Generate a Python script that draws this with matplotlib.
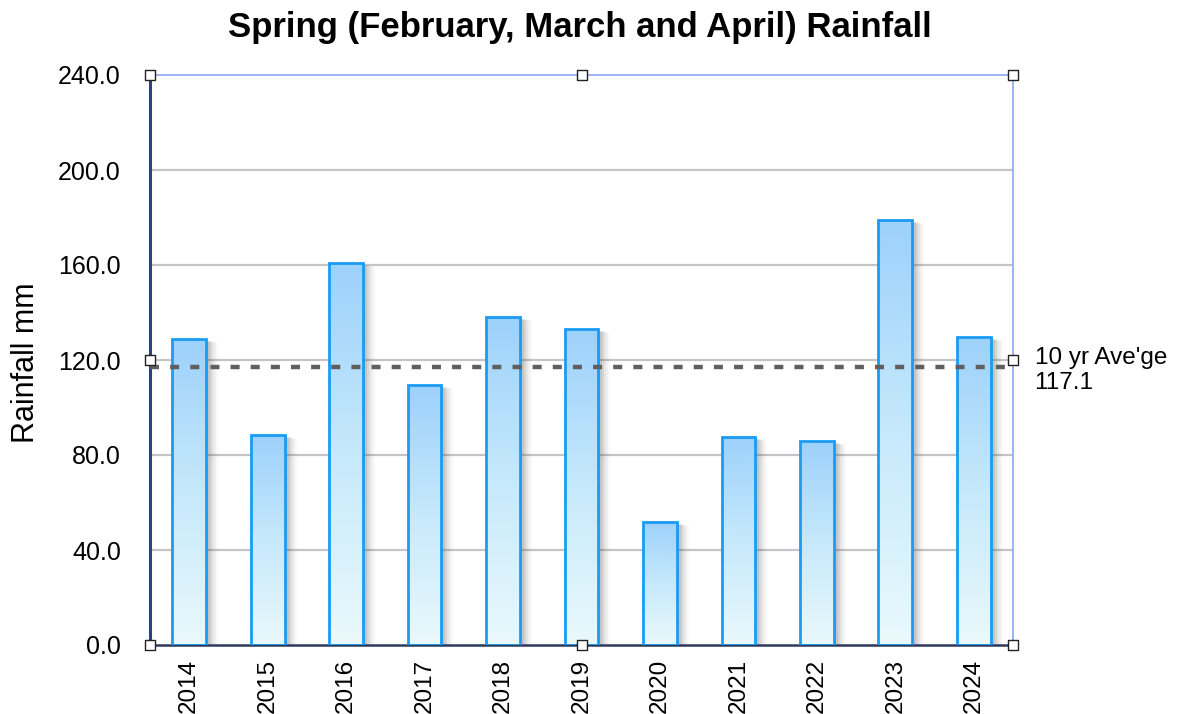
import numpy as np
import matplotlib
matplotlib.use("Agg")
import matplotlib.pyplot as plt
import matplotlib.transforms as mtransforms
from matplotlib.colors import LinearSegmentedColormap

plt.rcParams['font.family'] = ['Liberation Sans', 'DejaVu Sans']
plt.rcParams['lines.scale_dashes'] = False

years = ["2014", "2015", "2016", "2017", "2018", "2019", "2020", "2021", "2022", "2023", "2024"]
rainfall = [129.0, 88.4, 160.7, 109.5, 138.0, 133.2, 51.8, 87.6, 85.9, 179.0, 129.7]
average = 117.1
yticks = [0, 40, 80, 120, 160, 200, 240]

W, H = 1181, 714
fig = plt.figure(figsize=(W / 100, H / 100), dpi=100)
ax = fig.add_axes([150 / W, 1 - 645 / H, (1013 - 150) / W, (645 - 75) / H])

x = np.arange(len(years))
bw = 0.43
ax.set_xlim(-0.5, len(years) - 0.5)
ax.set_ylim(0, 240)

# grid
for t in yticks[1:-1]:
    ax.axhline(t, color='#c4c4c4', lw=1.6, zorder=0.5)

# shadows
for i, (dx, dy, a) in enumerate([(2, -1, 0.16), (4, -2, 0.13), (6, -2, 0.10),
                                 (8, -3, 0.07), (10, -3, 0.05), (12, -4, 0.03)]):
    tr = mtransforms.offset_copy(ax.transData, fig=fig, x=dx, y=dy, units='dots')
    ax.bar(x, rainfall, width=bw, color='#555555', alpha=a, lw=0, transform=tr, zorder=1)

cmap = LinearSegmentedColormap.from_list('g', ['#eaf9fc', '#c6e9fb', '#9dd1fb'])
grad = np.linspace(0, 1, 256).reshape(-1, 1)
bars = ax.bar(x, rainfall, width=bw, facecolor='none', edgecolor='#1a9cf5', lw=2.0, zorder=3)
for b in bars:
    x0 = b.get_x()
    w, h = b.get_width(), b.get_height()
    im = ax.imshow(grad, extent=(x0, x0 + w, 0, h), origin='lower', cmap=cmap,
                   aspect='auto', zorder=2, interpolation='bilinear')
    im.set_clip_path(b)
ax.set_xlim(-0.5, len(years) - 0.5)
ax.set_ylim(0, 240)

# average line
ax.plot([-0.5, len(years) - 0.6], [average, average], color='#5f5f5f', lw=3.2,
        linestyle=(0, (6.5, 8.0)), zorder=4, dash_capstyle='butt')

ax.text(1.025, average - 1.5, "10 yr Ave'ge\n117.1", transform=ax.get_yaxis_transform(),
        fontsize=17.5, va='center', ha='left', linespacing=1.2)

ax.set_xticks(x)
ax.set_xticklabels(years, rotation=90, fontsize=17.5)
ax.set_yticks(yticks)
ax.set_yticklabels([f"{t:.1f}" for t in yticks], fontsize=18)
ax.tick_params(length=0)
ax.tick_params(axis='x', pad=10)
ax.tick_params(axis='y', pad=21)

fig.text(26 / W, 1 - 363 / H, "Rainfall mm", fontsize=22, rotation=90,
         ha='center', va='center')

ax.spines['left'].set_color('#2b3f8f')
ax.spines['left'].set_linewidth(2.2)
ax.spines['bottom'].set_color('#2e3a5a')
ax.spines['bottom'].set_linewidth(1.8)
ax.spines['top'].set_color('#8ea4f2')
ax.spines['top'].set_linewidth(1.2)
ax.spines['right'].set_color('#8ea4f2')
ax.spines['right'].set_linewidth(1.2)

# selection handles
hx = [0, 0.5, 1, 0, 1, 0, 0.5, 1]
hy = [1, 1, 1, 0.5, 0.5, 0, 0, 0]
ax.scatter(hx, hy, s=60, marker='s', facecolor='white', edgecolor='#222222', lw=1.0,
           transform=ax.transAxes, clip_on=False, zorder=10)

fig.text(580 / W, 1 - 28 / H, "Spring (February, March and April) Rainfall",
         fontsize=25, fontweight='bold', ha='center', va='center')

fig.savefig("out.png", dpi=100)
